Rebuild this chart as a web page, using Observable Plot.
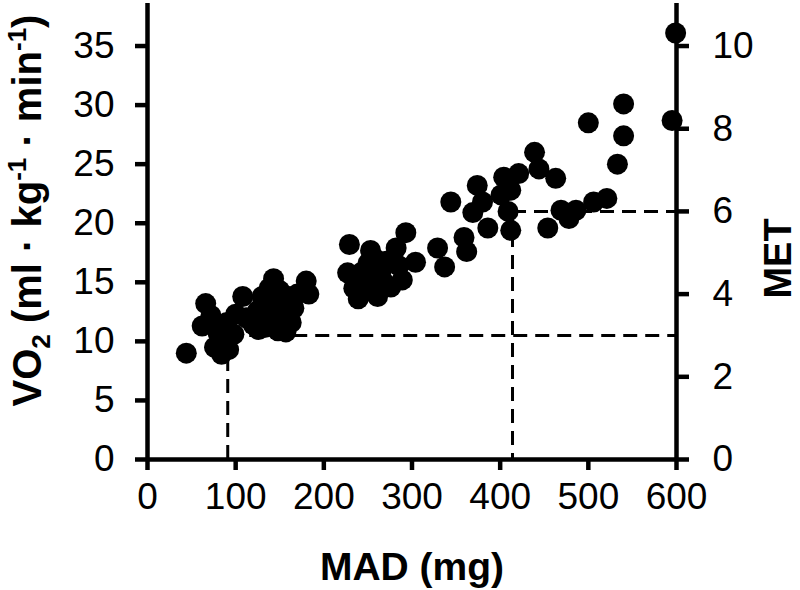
<!DOCTYPE html>
<html>
<head>
<meta charset="utf-8">
<script src="https://cdn.jsdelivr.net/npm/d3@7"></script>
<script src="https://cdn.jsdelivr.net/npm/@observablehq/plot@0.6"></script>
<style>
  html, body { margin: 0; padding: 0; background: #fff; }
</style>
</head>
<body>
<div id="chart"></div>
<script>
// ---- data ----
const madValues = [
  44, 62, 66, 72, 76, 80, 84, 90, 92, 98, 100, 108, 112, 120, 125, 130, 134, 138, 143, 145,
  148, 150, 153, 157, 160, 163, 166, 170, 180, 183, 140, 126, 155,
  229, 227, 234, 239, 245, 250, 253, 255, 261, 265, 268, 272, 276, 282, 285, 289, 293, 304, 258, 242, 262,
  329, 337, 344, 359, 362, 369, 374, 380, 386, 401, 404, 409, 412, 412, 421, 439, 444, 454, 463, 469,
  478, 486, 506, 521,
  500, 533, 540, 540, 595, 599
];
const vo2Values = [
  9.0, 11.3, 13.2, 12.2, 9.5, 10.7, 8.9, 11.6, 9.3, 10.6, 12.3, 13.8, 12.0, 11.4, 12.6, 13.8, 11.2, 14.5, 15.3, 13.0,
  10.9, 14.3, 12.2, 10.8, 13.8, 11.6, 12.8, 14.0, 15.1, 14.0, 12.4, 11.0, 13.3,
  18.2, 15.8, 14.5, 13.6, 14.6, 16.6, 17.7, 15.3, 13.8, 16.0, 15.0, 16.8, 14.6, 17.9, 16.4, 15.2, 19.2, 16.7, 17.0, 15.8, 14.4,
  17.9, 16.3, 21.8, 18.8, 17.6, 20.9, 23.2, 21.8, 19.6, 22.4, 23.9, 21.0, 19.4, 22.8, 24.2, 26.0, 24.6, 19.6, 23.8, 21.1,
  20.4, 21.1, 21.8, 22.1,
  28.5, 25.0, 27.4, 30.1, 28.7, 36.1
];
const xTicks = [0, 100, 200, 300, 400, 500, 600];
const vo2Ticks = [0, 5, 10, 15, 20, 25, 30, 35];
const metTicks = [0, 2, 4, 6, 8, 10];
const thresholdMET = [3, 6];
const thresholdMAD = [91, 414];
const vo2PerMET = 3.5;
const yMax = 38.6;

const points = madValues.map((m, i) => ({mad: m, vo2: vo2Values[i]}));
const thresholds = thresholdMAD.map((m, i) => ({mad: m, vo2: thresholdMET[i] * vo2PerMET}));
const xMin = xTicks[0], xMax = xTicks[xTicks.length - 1];

const dash = {stroke: "#000", strokeWidth: 3, strokeDasharray: "14,8"};
const axisStyle = {strokeWidth: 4.5, fontSize: 37, label: null};
const titleStyle = {textAnchor: "middle", lineAnchor: "middle", fontWeight: "bold"};

const chart = Plot.plot({
  width: 800,
  height: 590,
  marginLeft: 147,
  marginRight: 124,
  marginTop: 3,
  marginBottom: 131,
  style: {fontFamily: "'Liberation Sans', Arial, sans-serif", background: "#fff", color: "#000"},
  x: {domain: [xMin, xMax]},
  y: {domain: [0, yMax]},
  marks: [
    Plot.ruleY(thresholds, {y: "vo2", x1: "mad", x2: xMax, ...dash}),
    Plot.ruleX(thresholds, {x: "mad", y1: "vo2", y2: 0, ...dash}),
    Plot.dot(points, {x: "mad", y: "vo2", r: 10.5, fill: "#000", stroke: null}),
    Plot.ruleX([xMin, xMax], {strokeWidth: 4.5}),
    Plot.ruleY([0], {strokeWidth: 4.5}),
    Plot.axisX({ticks: xTicks, tickSize: 11, tickPadding: 12, ...axisStyle}),
    Plot.axisY({anchor: "left", ticks: vo2Ticks, tickSize: 12, tickPadding: 21, ...axisStyle}),
    Plot.axisY({anchor: "right", ticks: metTicks.map(m => m * vo2PerMET),
      tickFormat: d => String(Math.round(d / vo2PerMET)), tickSize: 12, tickPadding: 24, ...axisStyle}),
    Plot.text(["MAD (mg)"], {text: d => d, frameAnchor: "bottom", dy: 108, fontSize: 39, ...titleStyle}),
    Plot.text(["MET"], {text: d => d, frameAnchor: "right", dx: 102, dy: 27, rotate: -90, fontSize: 38, ...titleStyle}),
    Plot.text(["VO2 (ml · kg-1 · min-1)"], {text: d => d, frameAnchor: "left", dx: -119, dy: -21, rotate: -90, fontSize: 40, ...titleStyle})
  ]
});

// sub/superscripts for the left axis title
chart.querySelectorAll("text").forEach(t => {
  if (t.textContent === "VO2 (ml · kg-1 · min-1)") {
    while (t.firstChild) t.removeChild(t.firstChild);
    const parts = [["VO", 0], ["2", 1], [" (ml · kg", 0], ["-1", 2], [" · min", 0], ["-1", 2], [")", 0]];
    let shift = 0;
    for (const [s, kind] of parts) {
      const ts = document.createElementNS("http://www.w3.org/2000/svg", "tspan");
      const target = kind === 1 ? 9 : kind === 2 ? -15 : 0;
      ts.setAttribute("dy", String(target - shift));
      shift = target;
      if (kind) ts.setAttribute("font-size", "26");
      ts.textContent = s;
      t.appendChild(ts);
    }
  }
});

document.getElementById("chart").appendChild(chart);
</script>
</body>
</html>
